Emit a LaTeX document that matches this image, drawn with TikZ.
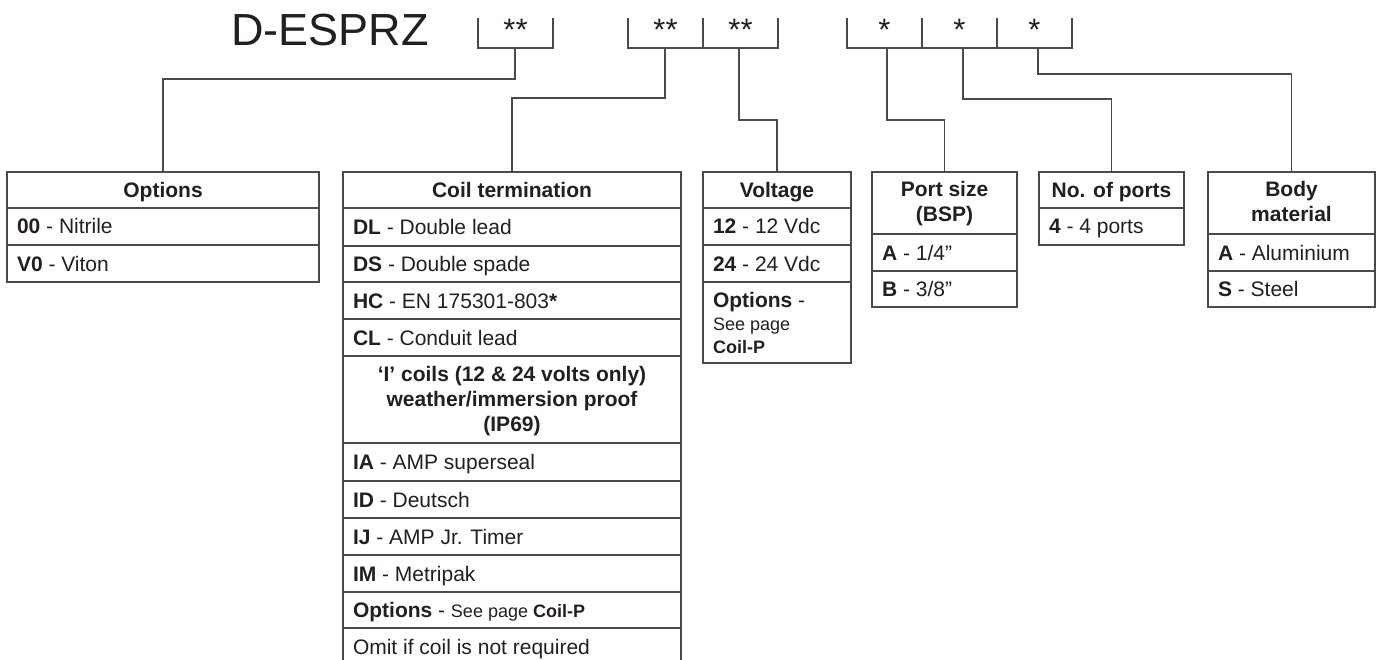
\documentclass[tikz,border=0pt]{standalone}
\usepackage{fontspec}
\setmainfont{Liberation Sans}
\definecolor{ink}{HTML}{231F20}
\definecolor{rule}{HTML}{4A4A4A}
\newcommand\rfont{\fontsize{21}{25}\selectfont}
\newcommand\sfnt{\fontsize{18}{22}\selectfont}
\tikzset{
  boxline/.style={draw=rule, line width=1.6pt},
  conn/.style={draw=rule, line width=1.6pt},
  frame/.style={boxline, anchor=north west, inner sep=0pt, outer sep=0pt},
  txt/.style={inner sep=0pt, outer sep=0pt, text=ink, font=\rfont},
  rowtxt/.style={txt, anchor=base west},
  headtxt/.style={txt, anchor=base, font=\rfont\bfseries},
  startxt/.style={txt, anchor=base, font=\fontsize{31}{31}\selectfont},
}
\newcommand\mkdiv[2]{\draw[boxline] (#1.west |- 0,#2) -- (#1.east |- 0,#2);}
\begin{document}
\begin{tikzpicture}[x=1pt,y=-1pt]
\useasboundingbox[fill=white] (0,0) rectangle (1380,660);
\clip (0,0) rectangle (1380,660);

% title
\node[txt, anchor=base west, font=\fontsize{45}{50}\selectfont] (title) at (231,46) {D-ESPRZ};

% brackets
\draw[boxline] (478,18) -- (478,48) -- (553,48) -- (553,18);
\draw[boxline] (628,18) -- (628,48) -- (778,48) -- (778,18);
\draw[boxline] (703,18) -- (703,48);
\draw[boxline] (847,18) -- (847,48) -- (1072,48) -- (1072,18);
\draw[boxline] (922,18) -- (922,48);
\draw[boxline] (997,18) -- (997,48);

\node[startxt] (s1) at (515.5,41) {**};
\node[startxt] (s2) at (665.5,41) {**};
\node[startxt] (s3) at (740.5,41) {**};
\node[startxt] (s4) at (884.5,41) {*};
\node[startxt] (s5) at (959.5,41) {*};
\node[startxt] (s6) at (1034.5,41) {*};

\coordinate (c1) at (515,48);
\coordinate (c2) at (665,48);
\coordinate (c3) at (739,48);
\coordinate (c4) at (887,48);
\coordinate (c5) at (963,48);
\coordinate (c6) at (1038,48);

% boxes
\node[frame, minimum width=312pt, minimum height=110pt] (opt) at (7,172) {};
\node[frame, minimum width=338pt, minimum height=540pt] (coil) at (343,172) {};
\node[frame, minimum width=148pt, minimum height=191pt] (volt) at (703,172) {};
\node[frame, minimum width=145pt, minimum height=135pt] (port) at (872,172) {};
\node[frame, minimum width=145pt, minimum height=73pt] (nports) at (1039,172) {};
\node[frame, minimum width=167pt, minimum height=135pt] (body) at (1208,172) {};

% dividers
\mkdiv{opt}{208}\mkdiv{opt}{245}
\mkdiv{coil}{208}\mkdiv{coil}{246}\mkdiv{coil}{282}\mkdiv{coil}{319}
\mkdiv{coil}{356}\mkdiv{coil}{443}\mkdiv{coil}{481}\mkdiv{coil}{518}
\mkdiv{coil}{555}\mkdiv{coil}{592}\mkdiv{coil}{628}
\mkdiv{volt}{208}\mkdiv{volt}{245}\mkdiv{volt}{282}
\mkdiv{port}{234}\mkdiv{port}{271}
\mkdiv{nports}{208}
\mkdiv{body}{234}\mkdiv{body}{271}

% connectors
\draw[conn] (c1) -- ++(0,31) -| (opt.north);
\draw[conn] (c2) -- ++(0,50) -| (coil.north);
\draw[conn] (c3) -- ++(0,72) -| (volt.north);
\draw[conn] (c4) -- ++(0,72) -| (port.north);
\draw[conn] (c5) -- ++(0,51) -| (nports.north);
\draw[conn] (c6) -- ++(0,26) -| (body.north);

% Options text
\node[headtxt] (oh) at (163,197.5) {Options};
\node[rowtxt] (o1) at (17,234) {\textbf{00} - Nitrile};
\node[rowtxt] (o2) at (17,271) {\textbf{V0} - Viton};

% Coil text
\node[headtxt] (ch) at (512,197.5) {Coil termination};
\node[rowtxt] (k1) at (353,234.5) {\textbf{DL} - Double lead};
\node[rowtxt] (k2) at (353,271.5) {\textbf{DS} - Double spade};
\node[rowtxt] (k3) at (353,308) {\textbf{HC} - EN 175301-803\textbf{*}};
\node[rowtxt] (k4) at (353,345) {\textbf{CL} - Conduit lead};
\node[headtxt] (ih1) at (512,381) {‘I’ coils (12 \& 24 volts only)};
\node[headtxt] (ih2) at (512,406) {weather/immersion proof};
\node[headtxt] (ih3) at (512,431) {(IP69)};
\node[rowtxt] (k5) at (353,469.5) {\textbf{IA} - AMP superseal};
\node[rowtxt] (k6) at (353,507) {\textbf{ID} - Deutsch};
\node[rowtxt] (k7) at (353,544) {\textbf{IJ} - AMP Jr. Timer};
\node[rowtxt] (k8) at (353,581) {\textbf{IM} - Metripak};
\node[rowtxt] (k9) at (353,617.5) {\textbf{Options} - {\sfnt See page \textbf{Coil-P}}};
\node[rowtxt] (k10) at (353,654) {Omit if coil is not required};

% Voltage text
\node[headtxt] (vh) at (777,197.5) {Voltage};
\node[rowtxt] (v1) at (713,234) {\textbf{12} - 12 Vdc};
\node[rowtxt] (v2) at (713,271) {\textbf{24} - 24 Vdc};
\node[rowtxt] (v3) at (713,307) {\textbf{Options} -};
\node[rowtxt, font=\sfnt] (v4) at (713,330) {See page};
\node[rowtxt, font=\sfnt\bfseries] (v5) at (713,353) {Coil-P};

% Port size text
\node[headtxt] (ph1) at (944.5,197) {Port size};
\node[headtxt] (ph2) at (944.5,222) {(BSP)};
\node[rowtxt] (p1) at (882,260) {\textbf{A} - 1/4”};
\node[rowtxt] (p2) at (882,296.5) {\textbf{B} - 3/8”};

% No. of ports text
\node[headtxt] (nh) at (1111.5,197.5) {No. of ports};
\node[rowtxt] (n1) at (1049,234) {\textbf{4} - 4 ports};

% Body material text
\node[headtxt] (bh1) at (1291.5,197) {Body};
\node[headtxt] (bh2) at (1291.5,222) {material};
\node[rowtxt] (b1) at (1218,260) {\textbf{A} - Aluminium};
\node[rowtxt] (b2) at (1218,296.5) {\textbf{S} - Steel};
\end{tikzpicture}
\end{document}
